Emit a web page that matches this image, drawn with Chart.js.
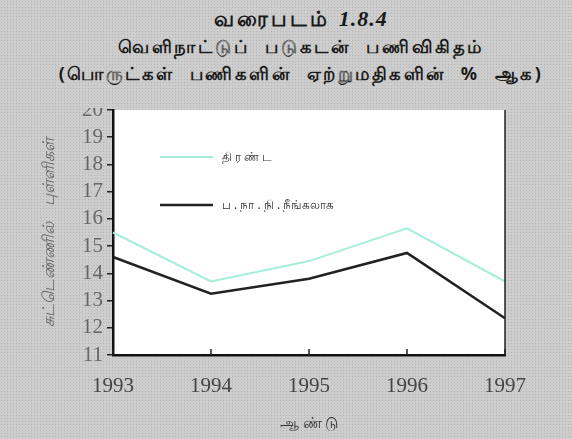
<!DOCTYPE html>
<html>
<head>
<meta charset="utf-8">
<script src="https://cdn.jsdelivr.net/npm/chart.js@4/dist/chart.umd.min.js"></script>
<style>
  body, #head {
    margin: 0; background-color: #cdcdcd;
    background-image: radial-gradient(#b5b5b5 0.7px, transparent 0.9px);
    background-size: 3px 3px;
  }
  #wrap { position: relative; width: 572px; height: 439px; }
  #head {
    position: absolute; left: 0; top: 0; width: 572px; height: 108px;
    text-align: center; color: #1a1a1a;
    font-family: "Noto Sans", sans-serif; font-weight: bold;
  }
  #head div { position: absolute; left: 30px; right: 0; }
  #l1 { top: 4px; font-size: 21px; letter-spacing: 3px; }
  #l1 i { font-family: "Liberation Serif", serif; font-size: 22px; letter-spacing: 1px; }
  #l2 { top: 34px; font-size: 18px; letter-spacing: 2.8px; word-spacing: 8px; }
  #l3 { top: 61px; font-size: 18px; letter-spacing: 2.5px; word-spacing: 8px; }
</style>
</head>
<body>
<div id="wrap">
  <canvas id="c" width="572" height="439"></canvas>
  <div id="head">
    <div id="l1">வரைபடம் <i>1.8.4</i></div>
    <div id="l2">வெளிநாட்டுப் படுகடன் பணிவிகிதம்</div>
    <div id="l3">(பொருட்கள் பணிகளின் ஏற்றுமதிகளின் % ஆக)</div>
  </div>
</div>
<script>
var years = ['1993', '1994', '1995', '1996', '1997'];
var totalRatio = [15.5, 13.7, 14.45, 15.65, 13.7];
var exImfRatio = [14.6, 13.25, 13.8, 14.75, 12.35];
var yTicks = [11, 12, 13, 14, 15, 16, 17, 18, 19, 20];

var areaAndLegend = {
    id: 'areaAndLegend',
    beforeDraw: function (chart) {
        var a = chart.chartArea, ctx = chart.ctx;
        ctx.save();
        ctx.fillStyle = '#ffffff';
        ctx.fillRect(a.left, a.top, a.right - a.left, a.bottom - a.top);
        ctx.restore();
    },
    afterDraw: function (chart) {
        var a = chart.chartArea, ctx = chart.ctx;
        var x = chart.scales.x;
        ctx.save();
        // right frame line
        ctx.strokeStyle = '#222';
        ctx.lineWidth = 1.5;
        ctx.beginPath();
        ctx.moveTo(a.right, a.top);
        ctx.lineTo(a.right, a.bottom);
        ctx.stroke();
        // inward x ticks
        years.forEach(function (y, i) {
            var px = x.getPixelForValue(i);
            ctx.beginPath();
            ctx.moveTo(px, a.bottom);
            ctx.lineTo(px, a.bottom - 6);
            ctx.stroke();
        });
        // legend inside plot
        ctx.font = '12px "Noto Sans", sans-serif';
        ctx.textBaseline = 'middle';
        chart.data.datasets.forEach(function (ds, i) {
            var ly = a.top + 47 + i * 48;
            ctx.strokeStyle = ds.borderColor;
            ctx.lineWidth = ds.borderWidth;
            ctx.beginPath();
            ctx.moveTo(a.left + 47, ly);
            ctx.lineTo(a.left + 100, ly);
            ctx.stroke();
            ctx.fillStyle = '#333';
            ctx.fillText(ds.label, a.left + 109, ly + 1);
        });
        ctx.restore();
    }
};

new Chart(document.getElementById('c'), {
    type: 'line',
    data: {
        labels: years,
        datasets: [
            {
                label: 'தி ர ண் ட',
                data: totalRatio,
                borderColor: '#a6eedc',
                borderWidth: 2,
                pointRadius: 0,
                tension: 0
            },
            {
                label: 'ப . நா . நி . நீங்கலாக',
                data: exImfRatio,
                borderColor: '#222222',
                borderWidth: 2.5,
                pointRadius: 0,
                tension: 0
            }
        ]
    },
    options: {
        responsive: false,
        animation: false,
        layout: { padding: { left: 0, top: 110, right: 67, bottom: 0 } },
        plugins: { legend: { display: false }, tooltip: { enabled: false } },
        scales: {
            x: {
                offset: false,
                afterFit: function (s) { s.height = 84; },
                grid: { display: false },
                border: { color: '#111', width: 2.5 },
                ticks: { color: '#444', padding: 11, font: { family: '"Liberation Serif", serif', size: 21 } },
                title: {
                    display: true, text: 'ஆ ண் டு', color: '#333',
                    font: { family: '"Noto Sans", sans-serif', size: 15 },
                    padding: { top: 0, bottom: 6 }
                }
            },
            y: {
                min: 11, max: 20,
                afterFit: function (s) { s.width = 113; },
                afterBuildTicks: function (s) { s.ticks = yTicks.map(function (v) { return { value: v }; }); },
                grid: { drawOnChartArea: false, drawTicks: true, tickLength: 6, color: '#222', lineWidth: 1.5 },
                border: { color: '#111', width: 2.5 },
                ticks: { color: '#666', padding: 4, autoSkip: false, font: { family: '"Liberation Serif", serif', size: 21 } },
                title: {
                    display: true, text: 'சுட்டெண்ணில்    புள்ளிகள்', color: '#666',
                    font: { family: '"Noto Sans", sans-serif', size: 16, style: 'italic' },
                    padding: { top: 40, bottom: 0 }
                }
            }
        }
    },
    plugins: [areaAndLegend]
});
</script>
</body>
</html>
